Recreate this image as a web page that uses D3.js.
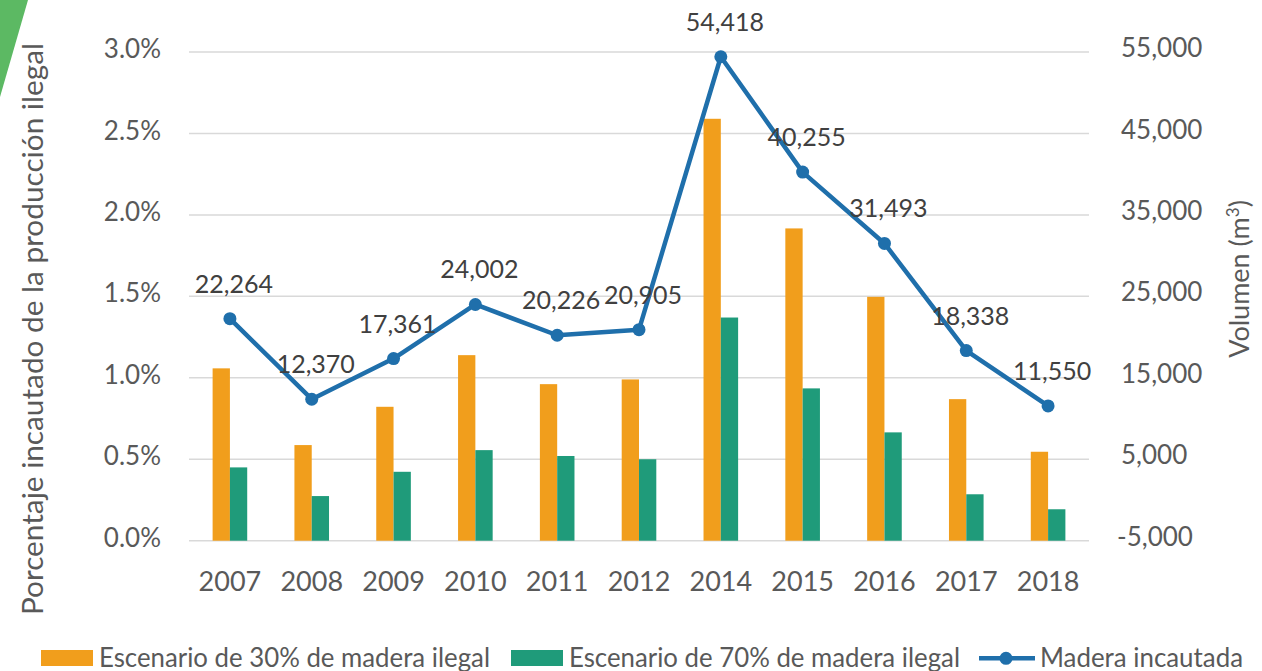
<!DOCTYPE html>
<html>
<head>
<meta charset="utf-8">
<script src="https://cdn.jsdelivr.net/npm/d3@7"></script>
<style>
  body { margin: 0; background: #fff; }
  svg { display: block; font-family: Lato, "Open Sans", sans-serif; }
</style>
</head>
<body>
<svg id="chart" width="1262" height="671"></svg>
<script>
// data
const years = ["2007", "2008", "2009", "2010", "2011", "2012", "2014", "2015", "2016", "2017", "2018"];
const scen30 = [1.058, 0.587, 0.822, 1.139, 0.961, 0.99, 2.59, 1.917, 1.497, 0.869, 0.546];
const scen70 = [0.45, 0.274, 0.423, 0.556, 0.52, 0.50, 1.37, 0.935, 0.665, 0.285, 0.193];
const seized = [22264, 12370, 17361, 24002, 20226, 20905, 54418, 40255, 31493, 18338, 11550];
const leftTicks = [0, 0.5, 1.0, 1.5, 2.0, 2.5, 3.0];
const rightTicks = [-5000, 5000, 15000, 25000, 35000, 45000, 55000];
const seriesNames = ["Escenario de 30% de madera ilegal", "Escenario de 70% de madera ilegal", "Madera incautada"];

const orange = "#f19e1c", green = "#1f9b7a", blue = "#1f6fab";
const svg = d3.select("#chart");
const fmt = v => d3.format(",")(v).replace("\u2212", "-");

// decorative corner
svg.append("polygon").attr("points", "0,0 28,0 0,97").attr("fill", "#5cb963");

const x = d3.scaleBand().domain(years).range([189, 1089]);
const sub = d3.scaleBand().domain(["a", "b"]).range([0, 34.6]);
const yL = d3.scaleLinear().domain([0, 3]).range([540.7, 52]);
const yR = d3.scaleLinear().domain([-5000, 55000]).range([540.7, 52]);

// gridlines
svg.append("g").selectAll("line").data(leftTicks).join("line")
  .attr("x1", 189).attr("x2", 1089)
  .attr("y1", d => yL(d)).attr("y2", d => yL(d))
  .attr("stroke", "#d9d9d9").attr("stroke-width", 1.5);

// left axis labels
svg.append("g").selectAll("text").data(leftTicks).join("text")
  .attr("x", 161).attr("y", d => yL(d) - 3).attr("dy", "0.35em")
  .attr("text-anchor", "end").attr("font-size", 26).attr("fill", "#595959")
  .text(d => d.toFixed(1) + "%");

// right axis labels
svg.append("g").selectAll("text").data(rightTicks).join("text")
  .attr("x", d => d < 0 ? 1117 : 1121).attr("y", d => yR(d) - 4).attr("dy", "0.35em")
  .attr("font-size", 26).attr("fill", "#595959")
  .text(fmt);

// x labels
svg.append("g").selectAll("text").data(years).join("text")
  .attr("x", d => x(d) + x.bandwidth() / 2).attr("y", 591)
  .attr("text-anchor", "middle").attr("font-size", 27).attr("fill", "#595959")
  .text(d => d);

// bars
const off = x.bandwidth() / 2 - 17.3;
svg.append("g").selectAll("rect").data(years).join("rect")
  .attr("x", d => x(d) + off + sub("a")).attr("width", sub.bandwidth())
  .attr("y", (d, i) => yL(scen30[i])).attr("height", (d, i) => yL(0) - yL(scen30[i]))
  .attr("fill", orange);
svg.append("g").selectAll("rect").data(years).join("rect")
  .attr("x", d => x(d) + off + sub("b")).attr("width", sub.bandwidth())
  .attr("y", (d, i) => yL(scen70[i])).attr("height", (d, i) => yL(0) - yL(scen70[i]))
  .attr("fill", green);

// line
const cx = d => x(d) + x.bandwidth() / 2;
const line = d3.line().x(d => cx(d)).y((d, i) => yR(seized[i]));
svg.append("path").datum(years).attr("d", line)
  .attr("fill", "none").attr("stroke", blue).attr("stroke-width", 4.5).attr("stroke-linejoin", "round");
svg.append("g").selectAll("circle").data(years).join("circle")
  .attr("cx", cx).attr("cy", (d, i) => yR(seized[i])).attr("r", 6.5).attr("fill", blue);
svg.append("g").selectAll("text").data(years).join("text")
  .attr("x", d => cx(d) + 4).attr("y", (d, i) => yR(seized[i]) - 26)
  .attr("text-anchor", "middle").attr("font-size", 25).attr("fill", "#404040")
  .text((d, i) => fmt(seized[i]));

// axis titles
svg.append("text").attr("transform", "translate(43,329) rotate(-90)")
  .attr("text-anchor", "middle").attr("font-size", 28).attr("fill", "#595959")
  .attr("textLength", 572).attr("lengthAdjust", "spacingAndGlyphs")
  .text("Porcentaje incautado de la producción ilegal");
const rt = svg.append("text").attr("transform", "translate(1249,279) rotate(-90)")
  .attr("text-anchor", "middle").attr("font-size", 27).attr("fill", "#595959");
rt.append("tspan").text("Volumen (m");
rt.append("tspan").attr("dy", -10).attr("font-size", 17).text("3");
rt.append("tspan").attr("dy", 10).text(")");

// legend
const lg = svg.append("g");
lg.append("rect").attr("x", 41).attr("y", 650).attr("width", 52).attr("height", 16).attr("fill", orange);
lg.append("text").attr("x", 99).attr("y", 666.5).attr("font-size", 27).attr("fill", "#595959")
  .attr("textLength", 391).attr("lengthAdjust", "spacingAndGlyphs").text(seriesNames[0]);
lg.append("rect").attr("x", 511).attr("y", 650).attr("width", 52).attr("height", 16).attr("fill", green);
lg.append("text").attr("x", 569).attr("y", 666.5).attr("font-size", 27).attr("fill", "#595959")
  .attr("textLength", 391).attr("lengthAdjust", "spacingAndGlyphs").text(seriesNames[1]);
lg.append("line").attr("x1", 979).attr("x2", 1035).attr("y1", 658.3).attr("y2", 658.3)
  .attr("stroke", blue).attr("stroke-width", 4.5);
lg.append("circle").attr("cx", 1006).attr("cy", 658.3).attr("r", 6.5).attr("fill", blue);
lg.append("text").attr("x", 1040).attr("y", 666.5).attr("font-size", 27).attr("fill", "#595959")
  .attr("textLength", 203).attr("lengthAdjust", "spacingAndGlyphs").text(seriesNames[2]);
</script>
</body>
</html>
